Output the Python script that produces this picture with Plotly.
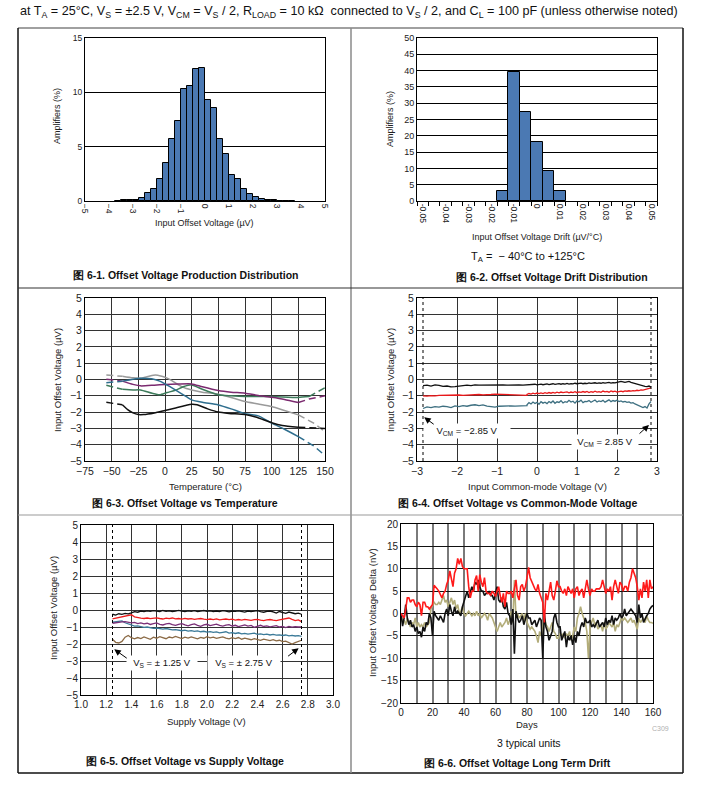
import plotly.graph_objects as go
import numpy as np

W, H = 709, 787
FONT = "Liberation Sans, Arial, sans-serif"


def fx(px):
    return px / W


def fy(py):
    return 1 - py / H


# ---------------- DATA ----------------
# Fig 6-1 histogram (bin centres in uV, % of amplifiers)
p1_centers = [-3.625, -3.375, -3.125, -2.875, -2.625, -2.375, -2.125, -1.875, -1.625, -1.375,
              -1.125, -0.875, -0.625, -0.375, -0.125, 0.125, 0.375, 0.625, 0.875, 1.125,
              1.375, 1.625, 1.875, 2.125, 2.375, 2.625, 2.875, 3.125, 3.375, 3.625]
p1_heights = [0.03, 0.05, 0.05, 0.1, 0.3, 0.7, 1.1, 2.0, 3.5, 5.7,
              7.35, 10.3, 10.6, 12.15, 12.25, 9.25, 8.55, 5.7, 4.35, 2.4,
              2.05, 1.1, 0.65, 0.35, 0.2, 0.08, 0.05, 0.04, 0.04, 0.02]
p1_ticks = [-5, -4, -3, -2, -1, 0, 1, 2, 3, 4, 5]

# Fig 6-2 drift histogram
p2_centers = [-0.015, -0.01, -0.005, 0.0, 0.005, 0.01]
p2_heights = [3.0, 39.5, 27.3, 18.2, 9.1, 3.1]
p2_ticks = [-0.05, -0.04, -0.03, -0.02, -0.01, 0, 0.01, 0.02, 0.03, 0.04, 0.05]
p2_ticktext = ["-0.05", "-0.04", "-0.03", "-0.02", "-0.01", "0", "0.01", "0.02", "0.03", "0.04", "0.05"]

# Fig 6-3 offset vs temperature (solid part + dashed extrapolations)
p3_black_t = [-40, -35, -30, -25, -20, -10, 0, 10, 20, 25, 30, 40, 50, 60, 75, 85, 100, 110, 125]
p3_black_v = [-1.55, -1.85, -2.05, -2.15, -2.15, -2.05, -1.9, -1.75, -1.58, -1.52, -1.55, -1.8, -2.0,
              -2.08, -2.15, -2.3, -2.65, -2.82, -2.93]
p3_black_lead = ([-55, -40], [-1.4, -1.55])
p3_black_tail = ([125, 140, 150], [-2.93, -2.95, -3.0])

p3_gray_t = [-40, -30, -23, -15, -9, -3, 0, 6, 12.5, 20, 25, 35, 50, 62, 75, 87.5, 100, 112, 125]
p3_gray_v = [0.2, 0.1, 0.08, 0.2, 0.27, 0.2, 0.14, -0.05, -0.33, -0.55, -0.64, -0.78, -0.9, -1.1,
             -1.35, -1.5, -1.66, -1.9, -2.17]
p3_gray_lead = ([-55, -40], [0.27, 0.2])
p3_gray_tail = ([125, 140, 150], [-2.17, -2.7, -3.2])

p3_blue_t = [-40, -30, -23, -12.5, -5, 0, 10, 20, 25, 35, 50, 62, 75, 87.5, 100, 112, 125]
p3_blue_v = [-0.1, 0.02, 0.08, 0.04, -0.1, -0.27, -0.65, -1.05, -1.25, -1.4, -1.56, -1.8, -2.1,
             -2.23, -2.68, -3.05, -3.5]
p3_blue_lead = ([-55, -40], [-0.2, -0.1])
p3_blue_tail = ([125, 140, 150], [-3.5, -4.1, -4.67])

p3_purple_t = [-40, -30, -23, -10, 0, 12, 25, 35, 50, 62, 75, 87.5, 100, 112, 125]
p3_purple_v = [-0.1, -0.3, -0.39, -0.35, -0.31, -0.28, -0.27, -0.45, -0.68, -0.78, -0.84, -0.98,
               -1.09, -1.22, -1.41]
p3_purple_lead = ([-55, -40], [0.02, -0.1])
p3_purple_tail = ([125, 135, 150], [-1.41, -1.2, -1.0])

p3_green_t = [-40, -30, -23, -12, -5, 2, 9, 17, 25, 35, 50, 62, 75, 100, 125, 135]
p3_green_v = [-0.6, -0.64, -0.64, -0.85, -0.94, -0.8, -0.68, -0.45, -0.33, -0.6, -0.94, -1.0, -1.04,
              -1.04, -1.1, -1.05]
p3_green_lead = ([-55, -40], [-0.35, -0.6])
p3_green_tail = ([135, 150], [-1.05, -0.5])

# Fig 6-4 offset vs common-mode voltage
p4_x_left = np.round(np.arange(-2.85, -0.249, 0.1), 3)
p4_x_right = np.round(np.arange(-0.25, 2.851, 0.05), 3)
p4_black_l = [-0.38, -0.35, -0.40, -0.33, -0.36, -0.42, -0.40, -0.45, -0.44, -0.40, -0.37, -0.35,
              -0.38, -0.33, -0.35, -0.34, -0.36, -0.33, -0.35, -0.34, -0.33, -0.35, -0.33, -0.34,
              -0.33, -0.34, -0.33]
p4_black_r = [-0.33, -0.30, -0.34, -0.31, -0.29, -0.33, -0.30, -0.28, -0.32, -0.29,
              -0.27, -0.31, -0.28, -0.26, -0.30, -0.27, -0.25, -0.29, -0.26, -0.28,
              -0.24, -0.28, -0.25, -0.27, -0.23, -0.26, -0.24, -0.22, -0.26, -0.23,
              -0.25, -0.21, -0.24, -0.22, -0.20, -0.24, -0.21, -0.23, -0.19, -0.22,
              -0.20, -0.18, -0.22, -0.19, -0.21, -0.17, -0.16, -0.12, -0.14, -0.18,
              -0.15, -0.12, -0.18, -0.22, -0.26, -0.30, -0.33, -0.36, -0.38, -0.42,
              -0.44, -0.40, -0.47]
p4_red_l = [-1.00, -1.02, -0.99, -1.01, -0.98, -0.97, -0.99, -0.96, -0.98, -0.95, -0.97, -0.95,
            -0.93, -0.95, -0.92, -0.94, -0.91, -0.92, -0.90, -0.91, -0.92, -0.90, -0.91, -0.93,
            -0.94, -0.96, -0.97]
p4_red_r = [-0.92, -0.86, -0.90, -0.84, -0.88, -0.83, -0.87, -0.82, -0.86, -0.81,
            -0.85, -0.80, -0.84, -0.79, -0.83, -0.78, -0.82, -0.77, -0.81, -0.79,
            -0.76, -0.82, -0.77, -0.80, -0.75, -0.81, -0.76, -0.79, -0.74, -0.78,
            -0.73, -0.80, -0.75, -0.78, -0.72, -0.77, -0.74, -0.79, -0.71, -0.76,
            -0.73, -0.78, -0.70, -0.75, -0.72, -0.77, -0.73, -0.71, -0.75, -0.70,
            -0.72, -0.69, -0.71, -0.68, -0.70, -0.66, -0.68, -0.64, -0.65, -0.61,
            -0.60, -0.56, -0.52]
p4_blue_l = [-1.78, -1.68, -1.72, -1.66, -1.70, -1.64, -1.67, -1.72, -1.62, -1.66, -1.60, -1.64,
             -1.58, -1.55, -1.60, -1.56, -1.63, -1.66, -1.70, -1.64, -1.62, -1.61, -1.62, -1.63,
             -1.62, -1.61, -1.60]
p4_blue_r = [-1.55, -1.42, -1.50, -1.38, -1.47, -1.40, -1.52, -1.36, -1.45, -1.39,
             -1.48, -1.35, -1.43, -1.32, -1.46, -1.37, -1.41, -1.30, -1.44, -1.36,
             -1.40, -1.28, -1.38, -1.33, -1.45, -1.31, -1.37, -1.27, -1.42, -1.34,
             -1.36, -1.29, -1.40, -1.32, -1.26, -1.38, -1.31, -1.35, -1.28, -1.39,
             -1.30, -1.25, -1.36, -1.29, -1.33, -1.27, -1.35, -1.31, -1.38, -1.34,
             -1.40, -1.37, -1.45, -1.42, -1.50, -1.55, -1.62, -1.68, -1.72, -1.66,
             -1.75, -1.50, -1.35]
VCM_LIMITS = [-2.85, 2.85]

# Fig 6-5 offset vs supply voltage
p5_x = np.round(np.arange(1.25, 2.7501, 0.025), 3)
p5_black = [-0.25, -0.30, -0.22, -0.26, -0.20, -0.23, -0.17, -0.10, -0.13, -0.06,
            -0.09, -0.05, -0.08, -0.04, -0.07, -0.10, -0.03, -0.08, -0.05, -0.09,
            -0.06, -0.02, -0.07, -0.10, -0.05, -0.08, -0.04, -0.09, -0.06, -0.03,
            -0.08, -0.05, -0.10, -0.06, -0.09, -0.04, -0.07, -0.11, -0.06, -0.08,
            -0.05, -0.09, -0.12, -0.06, -0.10, -0.07, -0.04, -0.09, -0.13, -0.08,
            -0.06, -0.11, -0.18, -0.09, -0.14, -0.20, -0.12, -0.16, -0.22, -0.19, -0.25]
p5_red = [-0.52, -0.48, -0.45, -0.42, -0.38, -0.30, -0.28, -0.40, -0.45, -0.48,
          -0.50, -0.47, -0.51, -0.49, -0.46, -0.50, -0.53, -0.48, -0.51, -0.47,
          -0.52, -0.50, -0.54, -0.49, -0.53, -0.51, -0.55, -0.52, -0.50, -0.54,
          -0.57, -0.53, -0.56, -0.52, -0.58, -0.55, -0.53, -0.57, -0.54, -0.59,
          -0.56, -0.60, -0.55, -0.58, -0.61, -0.57, -0.55, -0.60, -0.62, -0.58,
          -0.56, -0.60, -0.63, -0.58, -0.55, -0.50, -0.47, -0.55, -0.62, -0.58, -0.68]
p5_purple = [-0.78, -0.74, -0.72, -0.70, -0.68, -0.72, -0.76, -0.73, -0.80, -0.76,
             -0.82, -0.78, -0.85, -0.80, -0.76, -0.84, -0.88, -0.82, -0.79, -0.86,
             -0.90, -0.84, -0.80, -0.88, -0.93, -0.86, -0.82, -0.90, -0.96, -0.88,
             -0.84, -0.92, -0.87, -0.83, -0.91, -0.95, -0.89, -0.86, -0.94, -0.90,
             -0.98, -0.92, -0.88, -0.95, -0.91, -1.02, -0.94, -0.90, -0.97, -0.93,
             -0.99, -0.95, -0.92, -1.00, -0.96, -1.03, -0.97, -1.01, -0.98, -1.00, -0.99]
p5_blue = [-0.72, -0.70, -0.66, -0.64, -0.75, -0.82, -0.90, -0.95, -0.93, -0.99,
           -1.02, -1.00, -1.05, -1.08, -1.06, -1.10, -1.12, -1.09, -1.14, -1.17,
           -1.15, -1.19, -1.22, -1.18, -1.24, -1.21, -1.26, -1.23, -1.28, -1.25,
           -1.30, -1.27, -1.32, -1.29, -1.35, -1.31, -1.28, -1.36, -1.33, -1.38,
           -1.34, -1.40, -1.37, -1.42, -1.39, -1.36, -1.43, -1.40, -1.45, -1.42,
           -1.47, -1.44, -1.48, -1.46, -1.50, -1.47, -1.52, -1.49, -1.53, -1.51, -1.55]
p5_brown = [-1.72, -1.90, -1.94, -1.85, -1.60, -1.50, -1.63, -1.70, -1.62, -1.68,
            -1.58, -1.65, -1.72, -1.60, -1.66, -1.57, -1.63, -1.69, -1.59, -1.64,
            -1.55, -1.62, -1.68, -1.60, -1.65, -1.58, -1.63, -1.70, -1.61, -1.66,
            -1.57, -1.64, -1.60, -1.67, -1.62, -1.58, -1.65, -1.70, -1.63, -1.68,
            -1.62, -1.72, -1.66, -1.70, -1.75, -1.68, -1.73, -1.78, -1.71, -1.76,
            -1.80, -1.74, -1.82, -1.78, -1.86, -1.83, -1.90, -2.00, -1.92, -1.85, -1.78]
VS_LIMITS = [1.25, 2.75]

# Fig 6-6 long term drift (nV), one value per day
p6_days = list(range(161))
p6_red = [0, -0.5, -1, 1, 3.5, 3.5, 2.5, 3, 3, 2,
          1.5, 2.5, 2, -0.5, 2.5, 2.5, 1.5, 1.5, 1, 1.5,
          2, 6.3, 6, 5.5, 5, 4, 3.5, 4.5, 5, 6.5,
          7.5, 9.5, 7.5, 6, 9, 10, 12.3, 11, 12.3, 10.5,
          10, 10, 10, 6, 3.5, 5, 5, 7.5, 8.5, 5,
          8.7, 7, 6, 8, 5, 4.5, 4.5, 4, 5, 4.5,
          3.8, 5, 6, 4, 2.5, 4.5, 1.5, 5, 4.5, 4.5,
          5, 3.5, 5.5, 7.5, 4, 3, 6, 6.5, 5, 6,
          8, 10.3, 8, 7, 6, 5.5, 5, 6.5, 4.5, 3.5,
          2.5, -2, 4.5, 3, 5.5, 7, 4, 3, 5, 7.3,
          6, 6, 5, 4.5, 5.5, 4, 6, 5, 4.5, 5.5,
          3.5, 5.5, 6, 4, 5, 5.5, 3.5, 5.5, 7.5, 5.5,
          4, 5.5, 5, 5, 5.5, 5.5, 5.5, 6, 7.5, 6,
          4.5, 5.5, 5, 6, 3, 6, 7.5, 6, 4.5, 7,
          6.5, 5, 6, 6, 5, 7, 8, 10, 9, 8,
          6, 3, 5.5, 3.5, 7, 5, 7.5, 3.5, 7.5, 5.5, 6]
p6_black = [0, -2.8, -1, 2, -1, -2.5, -1.5, -3, -2.5, -4,
            -3, -4.5, -4, -5.3, -3, -4, -2, -2.5, 0, -1,
            -5, 0.5, -0.5, -1, -1.5, -0.5, -1.5, -2, 0, 1,
            -0.5, 2, 0.5, -0.5, 1.5, 0, 0.5, 0, -0.5, 1.5,
            2.5, 4, 5, 3.5, 4.5, 6, 5, 7, 6.5, 7.5,
            6, 5, 5, 4, 4.5, 4.5, 5, 4, 4, 3,
            4.5, 6, 3, 2.5, 3.5, 1.5, 1, 2.5, 0, -0.5,
            -2.5, 1, -9, 0.5, -1, -2, -1.5, -0.5, -2.5, -1,
            0, -1, -1, -2.5, -2, -1.5, -3, -2, -1, -1.5,
            -10, 0, -3, -4, -6, -5, -4, -1, 0, -2,
            -3, -3, -6, -5, -4, -7.5, -5, -6, -5, -7,
            -5, -6.5, -4, -5, -3, -2, -3, -1, -2, -2,
            -1.5, -3, -2.5, -3, -2, -1.5, -3, -2.5, -2, -3,
            -1, -2.5, -1.5, -2, -0.5, -2.5, -1, -1.5, -1, 0,
            -1, -0.5, 1, -0.5, 0, 0.5, 1, 0.5, 0, -0.5,
            -2, 2, -1, 0, -2, -1, -0.5, 0, 1, 1.5, 1.8]
p6_tan = [0, -2, -1.5, -2.5, -1, -2, -3, -2, -2.5, -1,
          -3, -2, -3, -2.5, -3, -2, -3, -2.5, -2, 1,
          2, 2.5, 2, 2, 2.5, 2, 3, 4, 2.5, 3,
          1.5, 2.5, 3.5, 2, 3, 1, 2, 0, 0.5, 1.5,
          0, -0.5, 0, 0.5, 0, -0.5, 0, -0.5, 0.5, -0.5,
          0, -1, -0.5, 0, -0.5, -1.5, 0, -0.5, -1, -2,
          -3, -4, -3, -2, -3, -2.5, -2, -1, -2.5, -1.5,
          0.5, -2, 7.5, -1, 0, -1, -0.5, 0, -1.5, 0,
          -2, -3, -3.5, -3, -3.5, -4, -5, -6.5, -4, -5,
          -3, -1, -2.5, -3, -4, -3, -2, -4, -4.5, -5.5,
          -5.5, -4.5, -5, -4.5, -5.5, -4.5, -5, -4, -6, -5,
          -3, -4, -1, 0, 1.5, 0, -1, -2, -4, -10,
          -3, -2, -1, -2.5, -2, -3.5, -3, -2.5, -4, -2,
          -3.5, -3, -2, -2.5, -3, -2, -4, -2.5, -3, -2,
          -1, -1.5, -1, -1.5, -2, -1.5, -1, -2, -1.5, -2.5,
          -3.5, -1, -2, -1.5, -1, -2, -0.5, -1.5, -2, -2, -2.2]

# ---------------- FIGURE ----------------
fig = go.Figure()

BAR_FILL = "#4b79b3"
fig.add_trace(go.Bar(x=p1_centers, y=p1_heights, width=0.25, marker=dict(color=BAR_FILL, line=dict(color="black", width=1)),
                     xaxis="x", yaxis="y", showlegend=False))
fig.add_trace(go.Bar(x=p2_centers, y=p2_heights, width=0.005, marker=dict(color=BAR_FILL, line=dict(color="black", width=1)),
                     xaxis="x2", yaxis="y2", showlegend=False))

DASH = "7px,4px"
p3_series = [
    (p3_gray_t, p3_gray_v, p3_gray_lead, p3_gray_tail, "#9a9a9a"),
    (p3_green_t, p3_green_v, p3_green_lead, p3_green_tail, "#3c7a5a"),
    (p3_purple_t, p3_purple_v, p3_purple_lead, p3_purple_tail, "#7b2a6f"),
    (p3_blue_t, p3_blue_v, p3_blue_lead, p3_blue_tail, "#2e6e8e"),
    (p3_black_t, p3_black_v, p3_black_lead, p3_black_tail, "#111111"),
]
for t, v, lead, tail, col in p3_series:
    fig.add_trace(go.Scatter(x=t, y=v, mode="lines", line=dict(color=col, width=1.5, shape="spline", smoothing=0.6),
                             xaxis="x3", yaxis="y3", showlegend=False))
    for seg in (lead, tail):
        fig.add_trace(go.Scatter(x=seg[0], y=seg[1], mode="lines", line=dict(color=col, width=1.5, dash=DASH),
                                 xaxis="x3", yaxis="y3", showlegend=False))

for xl, yl, xr, yr, col in [
    (p4_x_left, p4_blue_l, p4_x_right, p4_blue_r, "#3d6f80"),
    (p4_x_left, p4_red_l, p4_x_right, p4_red_r, "#e8191b"),
    (p4_x_left, p4_black_l, p4_x_right, p4_black_r, "#111111"),
]:
    fig.add_trace(go.Scatter(x=list(xl) + list(xr), y=list(yl) + list(yr), mode="lines",
                             line=dict(color=col, width=1.3), xaxis="x4", yaxis="y4", showlegend=False))

for yv, col in [(p5_brown, "#8b6a45"), (p5_blue, "#3b7a98"), (p5_purple, "#7a2f78"),
                (p5_red, "#ee1c1c"), (p5_black, "#111111")]:
    fig.add_trace(go.Scatter(x=p5_x, y=yv, mode="lines", line=dict(color=col, width=1.3),
                             xaxis="x5", yaxis="y5", showlegend=False))

for yv, col in [(p6_tan, "#b3ad7a"), (p6_black, "#111111"), (p6_red, "#ff1a1a")]:
    fig.add_trace(go.Scatter(x=p6_days, y=yv, mode="lines", line=dict(color=col, width=1.6),
                             xaxis="x6", yaxis="y6", showlegend=False))

# ---------------- AXES ----------------
P = {1: (85, 325, 38, 201), 2: (417, 657, 38, 201), 3: (85, 325, 298, 461),
     4: (417, 657, 298, 461), 5: (81, 333, 525, 695), 6: (401, 653, 524, 703)}


def tf(s):
    return dict(family=FONT, size=s, color="#222")


def dom(k):
    x0, x1, y0, y1 = P[k]
    return [fx(x0), fx(x1)], [fy(y1), fy(y0)]


base = dict(showline=True, mirror=True, linecolor="black", linewidth=1, zeroline=False, tickfont=tf(10),
            fixedrange=True, automargin=False)
GRID = dict(showgrid=True, gridcolor="#333333", gridwidth=1.4)

layout = {}
xd, yd = dom(1)
layout["xaxis"] = dict(base, domain=xd, anchor="y", range=[-5, 5], tickvals=p1_ticks, tickangle=90, showgrid=False,
                       tickfont=tf(8.5))
layout["yaxis"] = dict(base, domain=yd, anchor="x", range=[0, 15], tickvals=[0, 5, 10, 15], showgrid=True,
                       gridcolor="black", gridwidth=1, tickfont=tf(8.5))
xd, yd = dom(2)
layout["xaxis2"] = dict(base, domain=xd, anchor="y2", range=[-0.0525, 0.0525], tickvals=p2_ticks, ticktext=p2_ticktext,
                        tickangle=90, showgrid=False, ticks="", tickfont=tf(8.5),
                        minor=dict(ticks="outside", tick0=-0.0525, dtick=0.005, ticklen=4, tickcolor="black", showgrid=False))
layout["yaxis2"] = dict(base, domain=yd, anchor="x2", range=[0, 50], dtick=5, showgrid=True,
                        gridcolor="black", gridwidth=1.2, tickfont=tf(9))
xd, yd = dom(3)
layout["xaxis3"] = dict(base, **GRID, domain=xd, anchor="y3", range=[-75, 150], dtick=25, tick0=-75, tickfont=tf(10.5))
layout["yaxis3"] = dict(base, **GRID, domain=yd, anchor="x3", range=[-5, 5], dtick=1, tickfont=tf(10.5))
xd, yd = dom(4)
layout["xaxis4"] = dict(base, **GRID, domain=xd, anchor="y4", range=[-3, 3], dtick=1, tickfont=tf(10.5))
layout["yaxis4"] = dict(base, **GRID, domain=yd, anchor="x4", range=[-5, 5], dtick=1, tickfont=tf(10.5))
xd, yd = dom(5)
layout["xaxis5"] = dict(base, **GRID, domain=xd, anchor="y5", range=[1.0, 3.0], dtick=0.2, tick0=1.0, tickformat=".1f")
layout["yaxis5"] = dict(base, **GRID, domain=yd, anchor="x5", range=[-5, 5], dtick=1)
xd, yd = dom(6)
layout["xaxis6"] = dict(base, domain=xd, anchor="y6", range=[0, 160], dtick=20, showgrid=True, gridcolor="#7a7a7a",
                        gridwidth=2, minor=dict(dtick=10, showgrid=True, gridcolor="#7a7a7a", gridwidth=2))
layout["yaxis6"] = dict(base, domain=yd, anchor="x6", range=[-20, 20], dtick=5, showgrid=True,
                        gridcolor="#111111", gridwidth=1.4)

# ---------------- TEXT ----------------
ann = []


def txt(x, y, s, size=9, bold=False, angle=0, color="#222", xanchor="center"):
    ann.append(dict(x=fx(x), y=fy(y), xref="paper", yref="paper", text=("<b>%s</b>" % s) if bold else s,
                    showarrow=False, textangle=angle, xanchor=xanchor, yanchor="middle", align=xanchor,
                    font=dict(family=FONT, size=size, color=color)))


txt(18, 12, "at T<sub>A</sub> = 25°C, V<sub>S</sub> = ±2.5 V, V<sub>CM</sub> = V<sub>S</sub> / 2, R<sub>LOAD</sub> = 10 kΩ  connected to V<sub>S</sub> / 2, and C<sub>L</sub> = 100 pF (unless otherwise noted)",
    size=12.6, xanchor="left", color="#111")

# axis titles
txt(204, 223, "Input Offset Voltage (µV)", size=9)
txt(57, 116, "Amplifiers (%)", size=9, angle=-90)
txt(537, 237, "Input Offset Voltage Drift (µV/°C)", size=9)
txt(390, 119, "Amplifiers (%)", size=9, angle=-90)
txt(528, 257, "T<sub>A</sub> =  − 40°C to +125°C", size=11, color="#111")
txt(205, 487, "Temperature (°C)", size=9.5)
txt(57, 380, "Input Offset Voltage (µV)", size=9.5, angle=-90)
txt(537, 487, "Input Common-mode Voltage (V)", size=9.5)
txt(390, 380, "Input Offset Voltage (µV)", size=9.5, angle=-90)
txt(206, 721, "Supply Voltage (V)", size=9.5)
txt(53, 608, "Input Offset Voltage (µV)", size=9.5, angle=-90)
txt(527, 724, "Days", size=9.5)
txt(372, 613, "Input Offset Voltage Delta (nV)", size=9.5, angle=-90)
txt(529, 743, "3 typical units", size=10.5, color="#111")
txt(660, 728, "C309", size=7, color="#b0b0b0")

# figure captions
CAP = 10.5
txt(185, 275, "图 6-1. Offset Voltage Production Distribution", size=CAP, bold=True, color="#111")
txt(552, 277, "图 6-2. Offset Voltage Drift Distribution", size=CAP, bold=True, color="#111")
txt(185, 503, "图 6-3. Offset Voltage vs Temperature", size=CAP, bold=True, color="#111")
txt(517, 503, "图 6-4. Offset Voltage vs Common-Mode Voltage", size=CAP, bold=True, color="#111")
txt(185, 761, "图 6-5. Offset Voltage vs Supply Voltage", size=CAP, bold=True, color="#111")
txt(517, 763, "图 6-6. Offset Voltage Long Term Drift", size=CAP, bold=True, color="#111")


def label_box(xa, ya, x, y, s, w):
    ann.append(dict(x=x, y=y, xref=xa, yref=ya, text=s, showarrow=False, bgcolor="white", width=w,
                    font=dict(family=FONT, size=9.5, color="#111"), borderpad=1))


def arrow(xa, ya, x, y, ax, ay):
    ann.append(dict(x=x, y=y, xref=xa, yref=ya, text="", showarrow=True, ax=ax, ay=ay, arrowhead=2,
                    arrowsize=1.3, arrowwidth=1, arrowcolor="black", standoff=0))


label_box("x4", "y4", -1.76, -3.14, "V<sub>CM</sub> = −2.85 V", 84)
label_box("x4", "y4", 1.69, -3.82, "V<sub>CM</sub> = 2.85 V", 64)
arrow("x4", "y4", -2.82, -2.32, 11, 8)
arrow("x4", "y4", 2.8, -2.79, -11, 10)
label_box("x5", "y5", 1.643, -3.14, "V<sub>S</sub> = ± 1.25 V", 68)
label_box("x5", "y5", 2.296, -3.14, "V<sub>S</sub> = ± 2.75 V", 70)
arrow("x5", "y5", 1.264, -2.31, 14, 10)
arrow("x5", "y5", 2.727, -2.25, -12, 9)

# ---------------- SHAPES ----------------
shapes = []
for v in VCM_LIMITS:
    shapes.append(dict(type="line", xref="x4", yref="y4 domain", x0=v, x1=v, y0=0, y1=1,
                       line=dict(color="black", width=1, dash="dot")))
for v in VS_LIMITS:
    shapes.append(dict(type="line", xref="x5", yref="y5 domain", x0=v, x1=v, y0=0, y1=1,
                       line=dict(color="black", width=1, dash="dot")))


def pline(x0, y0, x1, y1, col, w=1):
    shapes.append(dict(type="line", xref="paper", yref="paper", x0=fx(x0), y0=fy(y0), x1=fx(x1), y1=fy(y1),
                       line=dict(color=col, width=w)))


pline(18, 28, 683, 28, "#808080", 1.5)
pline(18, 773, 683, 773, "#111111", 1.5)
pline(18, 28, 18, 773, "#111111", 1.5)
pline(683, 28, 683, 773, "#111111", 1.5)
pline(351, 28, 351, 773, "#8a8a8a", 1.5)
pline(18, 288, 683, 288, "#333333", 1.2)
pline(18, 515, 683, 515, "#999999", 1.2)

fig.update_layout(width=W, height=H, margin=dict(l=0, r=0, t=0, b=0, autoexpand=False), paper_bgcolor="white",
                  plot_bgcolor="white", font=dict(family=FONT), annotations=ann, shapes=shapes, bargap=0, **layout)

fig.write_html("out.html", config={"displayModeBar": False},
               post_script="document.body.style.margin='0px';document.body.style.padding='0px';")
